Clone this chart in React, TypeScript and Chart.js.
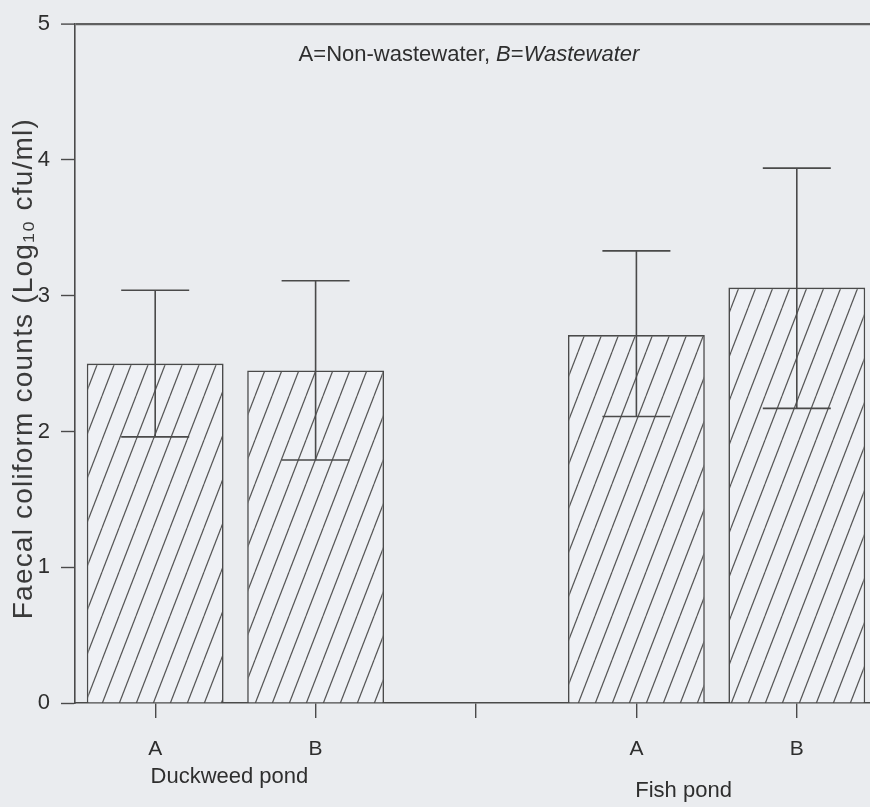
import { useEffect, useRef } from 'react';
import { Chart, registerables } from 'chart.js';
Chart.register(...registerables);

const categories = ['A', 'B', '', 'A', 'B'];
const meanCounts = [2.5, 2.45, null, 2.71, 3.06];
const errorLow = [1.96, 1.79, null, 2.11, 2.17];
const errorHigh = [3.04, 3.11, null, 3.33, 3.94];
const groupLabels = ['Duckweed pond', 'Fish pond'];
const yTickValues = [0, 1, 2, 3, 4, 5];
const yTitle = 'Faecal coliform counts (Log\u2081\u2080 cfu/ml)';

const W = 890;
const H = 807;
const FONT = "'Liberation Sans', Arial, Helvetica, sans-serif";
const BG = '#eaecef';
const BAR_FILL = '#eff1f5';
const LINE = '#4a4a4a';
const TEXT = '#2e2e2e';

function makeHatch(): CanvasPattern | string {
  const w = 17;
  const h = 44;
  const c = document.createElement('canvas');
  c.width = w;
  c.height = h;
  const g = c.getContext('2d');
  if (!g) return BAR_FILL;
  g.fillStyle = BAR_FILL;
  g.fillRect(0, 0, w, h);
  g.strokeStyle = '#555555';
  g.lineWidth = 1.2;
  for (const dx of [-w, 0, w]) {
    g.beginPath();
    g.moveTo(dx, h);
    g.lineTo(dx + w, 0);
    g.stroke();
  }
  const p = g.createPattern(c, 'repeat');
  return p || BAR_FILL;
}

const errorBarPlugin = {
  id: 'errorBars',
  afterDatasetsDraw(chart: any) {
    const ctx = chart.ctx;
    const y = chart.scales.y;
    const meta = chart.getDatasetMeta(0);
    ctx.save();
    ctx.strokeStyle = LINE;
    ctx.lineWidth = 1.6;
    meta.data.forEach((bar: any, i: number) => {
      const lo = errorLow[i];
      const hi = errorHigh[i];
      if (lo == null || hi == null) return;
      const x = bar.x;
      const yl = y.getPixelForValue(lo);
      const yh = y.getPixelForValue(hi);
      const cap = 34;
      ctx.beginPath();
      ctx.moveTo(x, yl);
      ctx.lineTo(x, yh);
      ctx.moveTo(x - cap, yl);
      ctx.lineTo(x + cap, yl);
      ctx.moveTo(x - cap, yh);
      ctx.lineTo(x + cap, yh);
      ctx.stroke();
    });
    ctx.restore();
  },
};

const textPlugin = {
  id: 'extraText',
  afterDraw(chart: any) {
    const ctx = chart.ctx;
    const area = chart.chartArea;
    const xs = chart.scales.x;
    ctx.save();
    ctx.fillStyle = TEXT;
    // y-axis title
    ctx.save();
    ctx.fillStyle = '#3a3a3a';
    ctx.font = `28px ${FONT}`;
    try {
      (ctx as any).letterSpacing = '1.2px';
    } catch (e) {}
    ctx.textAlign = 'center';
    ctx.textBaseline = 'middle';
    ctx.translate(24, (area.top + area.bottom) / 2 + 5);
    ctx.rotate(-Math.PI / 2);
    ctx.fillText(yTitle, 0, 0);
    ctx.restore();

    // legend-like note
    const parts: [string, boolean][] = [
      ['A=Non-wastewater, ', false],
      ['B', true],
      ['=', false],
      ['Wastewater', true],
    ];
    const size = 22;
    let total = 0;
    for (const [t, it] of parts) {
      ctx.font = `${it ? 'italic ' : ''}${size}px ${FONT}`;
      total += ctx.measureText(t).width;
    }
    let x = 469 - total / 2;
    ctx.textBaseline = 'middle';
    ctx.textAlign = 'left';
    for (const [t, it] of parts) {
      ctx.font = `${it ? 'italic ' : ''}${size}px ${FONT}`;
      ctx.fillText(t, x, 55);
      x += ctx.measureText(t).width;
    }

    // group labels
    ctx.font = `22px ${FONT}`;
    ctx.textAlign = 'center';
    const g1 = (xs.getPixelForValue(0) + xs.getPixelForValue(1)) / 2 - 6;
    const g2 = (xs.getPixelForValue(3) + xs.getPixelForValue(4)) / 2 - 33;
    ctx.fillText(groupLabels[0], g1, 777);
    ctx.fillText(groupLabels[1], g2, 791);
    ctx.restore();
  },
};

export default function App() {
  const ref = useRef<HTMLCanvasElement | null>(null);
  useEffect(() => {
    if (!ref.current) return;
    const hatch = makeHatch();
    const chart = new Chart(ref.current, {
      type: 'bar',
      data: {
        labels: categories,
        datasets: [
          {
            data: meanCounts as any,
            backgroundColor: hatch as any,
            borderColor: LINE,
            borderWidth: 1.6,
            barPercentage: 0.853,
            categoryPercentage: 1,
          },
        ],
      },
      options: {
        animation: false,
        responsive: false,
        devicePixelRatio: 1,
        layout: { padding: { top: 17, right: W - 877, left: 0, bottom: 0 } },
        plugins: { legend: { display: false }, tooltip: { enabled: false } },
        scales: {
          x: {
            type: 'category',
            offset: true,
            grid: {
              offset: false,
              drawOnChartArea: false,
              drawTicks: true,
              tickLength: 15,
              color: LINE,
              lineWidth: 1.4,
            },
            border: { color: LINE, width: 1.6 },
            ticks: {
              color: TEXT,
              font: { family: FONT, size: 21 },
              padding: 19,
              maxRotation: 0,
              autoSkip: false,
            },
            afterFit: (s: any) => {
              s.height = H - 703;
            },
          },
          y: {
            min: 0,
            max: 5,
            afterBuildTicks: (s: any) => {
              s.ticks = yTickValues.map((v) => ({ value: v }));
            },
            grid: {
              drawOnChartArea: true,
              drawTicks: true,
              tickLength: 14,
              color: (c: any) => (c.tick && c.tick.value === 5 ? '#606060' : 'rgba(0,0,0,0)'),
              lineWidth: (c: any) => (c.tick && c.tick.value === 5 ? 2.2 : 1),
              tickColor: LINE,
              tickWidth: 1.4,
            },
            border: { color: LINE, width: 1.6 },
            ticks: {
              color: TEXT,
              font: { family: FONT, size: 22 },
              padding: 11,
            },
            afterFit: (s: any) => {
              s.width = 75;
            },
          },
        },
      },
      plugins: [errorBarPlugin, textPlugin],
    });
    return () => chart.destroy();
  }, []);

  return (
    <div
      style={{
        position: 'fixed',
        left: 0,
        top: 0,
        width: 870,
        height: 807,
        overflow: 'hidden',
        background: BG,
      }}
    >
      <canvas ref={ref} width={W} height={H} style={{ display: 'block', width: W, height: H }} />
    </div>
  );
}
